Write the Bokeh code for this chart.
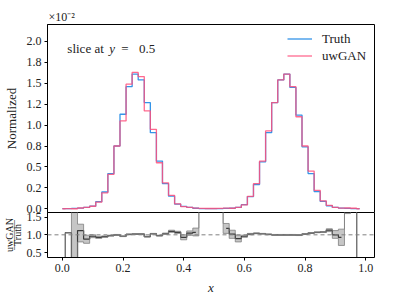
import numpy as np
from bokeh.plotting import figure
from bokeh.layouts import column
from bokeh.models import Range1d, Label, Span, FixedTicker, Legend, LegendItem, LinearAxis
from bokeh.embed import file_html
from bokeh.resources import INLINE

# bin centres (50 bins of width 0.02)
x_centers = np.round(np.arange(50) * 0.02, 2)

# normalized densities, in units of 1e-2
truth = [0.001, 0.002, 0.004, 0.008, 0.017, 0.031, 0.084, 0.20, 0.42, 0.75,
         1.13, 1.46, 1.61, 1.54, 1.27, 0.91, 0.57, 0.30, 0.150, 0.056,
         0.028, 0.016, 0.006, 0.002, 0.001, 0.001, 0.002, 0.004, 0.006, 0.016,
         0.048, 0.145, 0.29, 0.56, 0.91, 1.27, 1.54, 1.61, 1.45, 1.12,
         0.74, 0.42, 0.205, 0.088, 0.036, 0.016, 0.008, 0.004, 0.002, 0.001]
uwgan = [0.000, 0.002, 0.000, 0.009, 0.016, 0.030, 0.079, 0.19, 0.41, 0.75,
         1.05, 1.49, 1.63, 1.58, 1.17, 0.95, 0.55, 0.31, 0.160, 0.059,
         0.026, 0.017, 0.0065, 0.004, 0.003, 0.003, 0.004, 0.007, 0.006, 0.016,
         0.046, 0.148, 0.30, 0.57, 0.93, 1.27, 1.54, 1.61, 1.46, 1.10,
         0.75, 0.45, 0.22, 0.095, 0.041, 0.016, 0.0075, 0.009, 0.006, 0.000]

nan = float("nan")
ratio = [0.0, 1.06, 0.0, 1.12, 0.88, 0.96, 0.93, 0.95, 0.98, 1.00,
         0.96, 1.01, 1.02, 1.02, 0.95, 1.03, 0.98, 1.03, 1.10, 1.07,
         0.93, 1.05, 1.07, nan, nan, nan, nan, 1.18, 1.02, 0.89,
         0.96, 1.02, 1.04, 1.03, 1.01, 1.00, 1.00, 1.00, 1.00, 0.99,
         1.02, 1.05, 1.07, 1.08, 1.13, 1.00, 0.93, nan, 3.0, 0.0]
band_lo = [0.0, 1.06, -2.0, 0.80, 0.76, 0.92, 0.90, 0.93, 0.97, 0.99,
           0.95, 1.00, 1.01, 1.01, 0.94, 1.02, 0.97, 1.01, 1.07, 1.04,
           0.86, 0.99, 0.97, 2.5, 2.5, 2.5, 2.5, 1.04, 0.90, 0.80,
           0.93, 1.00, 1.03, 1.02, 1.00, 0.99, 0.99, 0.99, 0.99, 0.98,
           1.01, 1.04, 1.06, 1.07, 1.09, 0.90, 0.70, 1.60, 2.5, 0.0]
band_hi = [0.0, 1.06, 3.0, 1.30, 0.99, 1.00, 0.96, 0.97, 0.99, 1.01,
           0.97, 1.02, 1.03, 1.03, 0.96, 1.04, 0.99, 1.05, 1.13, 1.10,
           1.00, 1.11, 1.19, 4.0, 4.0, 4.0, 4.0, 1.32, 1.13, 0.99,
           0.99, 1.04, 1.05, 1.04, 1.02, 1.01, 1.01, 1.01, 1.01, 1.00,
           1.03, 1.06, 1.08, 1.09, 1.17, 1.12, 1.16, 4.0, 4.0, 0.0]

main_ticks = [0.0, 0.25, 0.5, 0.75, 1.0, 1.25, 1.5, 1.75, 2.0]
main_tick_labels = ["0.0", "0.2", "0.5", "0.8", "1.0", "1.2", "1.5", "1.8", "2.0"]
ratio_ticks = [0.5, 1.0, 1.5]
x_ticks = [0.0, 0.2, 0.4, 0.6, 0.8, 1.0]

FONT = "Liberation Serif"
BLUE = "#1E88E5"
PINK = "#FF4F7B"
INK = "#222222"
W = 398


def style_axis(ax):
    ax.axis_line_color = "black"
    ax.major_tick_line_color = "black"
    ax.major_tick_in = 0
    ax.major_tick_out = 3
    ax.minor_tick_line_color = None
    ax.major_label_text_font = FONT
    ax.major_label_text_font_size = "12px"
    ax.major_label_text_color = INK
    ax.major_label_standoff = 3
    ax.axis_label_text_font = FONT
    ax.axis_label_text_font_style = "normal"
    ax.axis_label_text_font_size = "13px"
    ax.axis_label_text_color = INK


p1 = figure(width=W, height=220, x_range=Range1d(-0.049, 1.029), y_range=Range1d(-0.045, 2.203),
            output_backend="svg", toolbar_location=None,
            min_border_left=41, min_border_right=24, min_border_top=24, min_border_bottom=8)
p2 = figure(width=W, height=91, x_range=p1.x_range, y_range=Range1d(0.36, 1.63),
            output_backend="svg", toolbar_location=None,
            min_border_left=41, min_border_right=24, min_border_top=6, min_border_bottom=38)
p2.margin = (-14, 0, 0, 0)

for p in (p1, p2):
    p.grid.visible = False
    style_axis(p.xaxis[0])
    style_axis(p.yaxis[0])

p1.background_fill_color = "white"
p1.border_fill_color = "white"
p1.outline_line_color = "black"
p1.outline_line_width = 1
p2.background_fill_alpha = 0
p2.border_fill_alpha = 0
p2.outline_line_color = None

# main panel
p1.xaxis.visible = False
p1.yaxis.ticker = FixedTicker(ticks=main_ticks)
p1.yaxis.major_label_overrides = {t: l for t, l in zip(main_ticks, main_tick_labels)}
p1.yaxis.axis_label = "Normalized"
p1.yaxis.axis_label_standoff = 5

p1.title.text = "\u00d710\u207b\u00b2"
p1.title.align = "left"
p1.title.text_font = FONT
p1.title.text_font_size = "12px"
p1.title.text_font_style = "normal"
p1.title.text_color = INK
p1.title.standoff = 1
p1.title.offset = 1

r_truth = p1.step(x_centers, truth, mode="center", line_color=BLUE, line_width=1.3, line_alpha=0.9)
r_gan = p1.step(x_centers, uwgan, mode="center", line_color=PINK, line_width=1.3, line_alpha=0.85)

legend = Legend(items=[LegendItem(label="Truth", renderers=[r_truth]),
                       LegendItem(label="uwGAN", renderers=[r_gan])],
                location=(240, 148), orientation="vertical")
legend.border_line_color = None
legend.background_fill_alpha = 0
legend.label_text_font = FONT
legend.label_text_font_size = "13px"
legend.label_text_color = INK
legend.glyph_width = 25
legend.glyph_height = 17
legend.label_height = 17
legend.label_standoff = 10
legend.spacing = 0
legend.padding = 2
legend.margin = 0
p1.add_layout(legend)

# "slice at y = 0.5"
for xx, txt, style in [(0.0164, "slice at", "normal"), (0.1546, "y", "italic"),
                       (0.194, "=", "normal"), (0.253, "0.5", "normal")]:
    p1.add_layout(Label(x=xx, y=1.916, text=txt, text_font=FONT, text_font_size="13px",
                        text_font_style=style, text_color=INK, text_baseline="alphabetic"))

# ratio panel
p2.yaxis.ticker = FixedTicker(ticks=ratio_ticks)
p2.yaxis.major_label_overrides = {0.5: "0.5", 1.0: "1.0", 1.5: "1.5"}
p2.yaxis.axis_label = "uwGAN\n\u2014\u2014\u2014\nTruth"
p2.yaxis.axis_label_text_font_size = "10px"
p2.yaxis.axis_label_text_line_height = 0.36
p2.yaxis.axis_label_standoff = 1
p2.xaxis.ticker = FixedTicker(ticks=x_ticks)
p2.xaxis.major_label_overrides = {0.0: "0.0", 0.2: "0.2", 0.4: "0.4", 0.6: "0.6", 0.8: "0.8", 1.0: "1.0"}
p2.xaxis.axis_label = "x"
p2.xaxis.axis_label_text_font_style = "italic"
p2.xaxis.axis_label_standoff = 5

right_spine = LinearAxis(ticker=FixedTicker(ticks=[]), major_label_text_font_size="0px",
                         axis_line_color="black", major_tick_line_color=None, minor_tick_line_color=None)
p2.add_layout(right_spine, "right")

p2.add_layout(Span(location=1.0, dimension="width", line_color="gray", line_dash="4 3", line_width=1))
p2.step(x_centers, ratio, mode="center", line_color="black", line_width=1.2)
p2.varea_step(x=x_centers, y1=band_lo, y2=band_hi, step_mode="center",
              fill_color="gray", fill_alpha=0.45)
p2.step(x_centers, band_lo, mode="center", line_color="#808080", line_width=1, line_alpha=0.8)
p2.step(x_centers, band_hi, mode="center", line_color="#808080", line_width=1, line_alpha=0.8)

layout = column(p1, p2, spacing=0)

open("out.html", "w").write(file_html(layout, INLINE))
